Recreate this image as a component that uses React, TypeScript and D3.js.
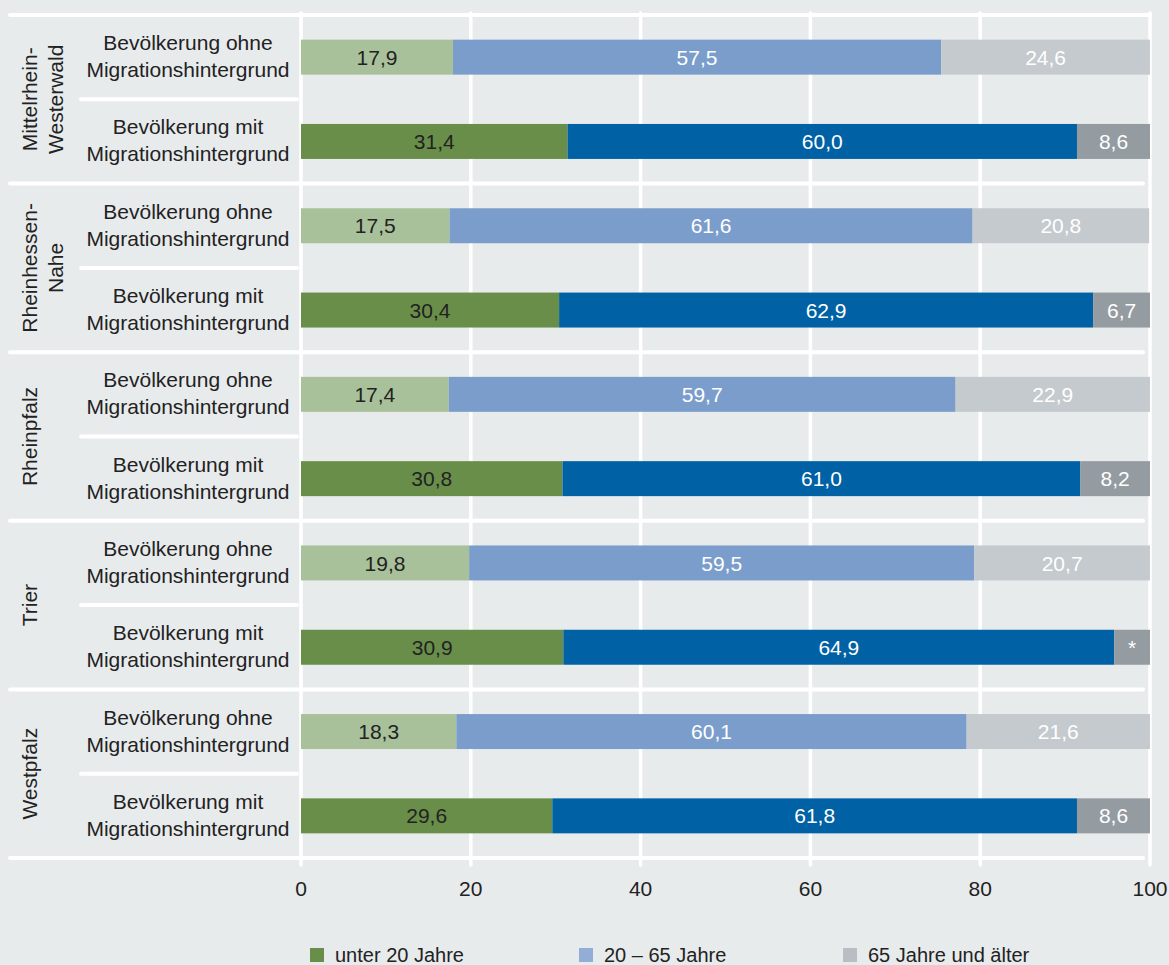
import React from "react";
import * as d3 from "d3";

const regionLines: string[][] = [
  ["Mittelrhein-", "Westerwald"],
  ["Rheinhessen-", "Nahe"],
  ["Rheinpfalz"],
  ["Trier"],
  ["Westpfalz"],
];
const groupLines: string[][] = [
  ["Bevölkerung ohne", "Migrationshintergrund"],
  ["Bevölkerung mit", "Migrationshintergrund"],
];
const seriesNames = ["unter 20 Jahre", "20 – 65 Jahre", "65 Jahre und älter"];

// ohne Migrationshintergrund
const ohneUnder20 = [17.9, 17.5, 17.4, 19.8, 18.3];
const ohneMid = [57.5, 61.6, 59.7, 59.5, 60.1];
const ohneOld = [24.6, 20.8, 22.9, 20.7, 21.6];
// mit Migrationshintergrund
const mitUnder20 = [31.4, 30.4, 30.8, 30.9, 29.6];
const mitMid = [60.0, 62.9, 61.0, 64.9, 61.8];
const mitOld = [8.6, 6.7, 8.2, 4.2, 8.6];
const mitOldLabels = ["8,6", "6,7", "8,2", "*", "8,6"];

const xTicks = [0, 20, 40, 60, 80, 100];

const ohneColors = ["#a9c19a", "#7b9dcb", "#c5cace"];
const mitColors = ["#688e4a", "#0062a5", "#949ba1"];
const ohneText = ["#222", "#fff", "#fff"];
const mitText = ["#222", "#fff", "#fff"];
const legendColors = ["#688e4a", "#93aed6", "#b8bec4"];

const fmt = (v: number) => v.toFixed(1).replace(".", ",");

export default function App() {
  const W = 1169;
  const H = 965;
  const top = 15;
  const bottom = 858;
  const x = d3.scaleLinear().domain([0, 100]).range([301, 1150]);

  type Row = { key: string; values: number[]; labels: string[]; colors: string[]; text: string[]; region: number; grp: number };
  const rows: Row[] = [];
  regionLines.forEach((_, i) => {
    rows.push({
      key: `r${i}o`,
      values: [ohneUnder20[i], ohneMid[i], ohneOld[i]],
      labels: [fmt(ohneUnder20[i]), fmt(ohneMid[i]), fmt(ohneOld[i])],
      colors: ohneColors,
      text: ohneText,
      region: i,
      grp: 0,
    });
    rows.push({
      key: `r${i}m`,
      values: [mitUnder20[i], mitMid[i], mitOld[i]],
      labels: [fmt(mitUnder20[i]), fmt(mitMid[i]), mitOldLabels[i]],
      colors: mitColors,
      text: mitText,
      region: i,
      grp: 1,
    });
  });

  const y = d3
    .scaleBand<string>()
    .domain(rows.map((r) => r.key))
    .range([top, bottom])
    .paddingInner(0.585)
    .paddingOuter(0.2925);
  const step = y.step();
  const groupH = step * 2;
  const font = "'Liberation Sans', Arial, Helvetica, sans-serif";

  return (
    <svg width={W} height={H} style={{ position: "absolute", left: 0, top: 0, background: "#e8ebec" }} fontFamily={font}>
      <rect x={0} y={0} width={W} height={H} fill="#e8ebec" />
      {/* vertical gridlines */}
      {xTicks.map((t) => (
        <line key={t} x1={x(t)} x2={x(t)} y1={13} y2={865} stroke="#fff" strokeWidth={3.5} strokeLinecap="round" />
      ))}
      {/* group separators */}
      {d3.range(regionLines.length + 1).map((g) => (
        <line
          key={g}
          x1={10}
          x2={g === 0 ? 1150 : 1143}
          y1={top + g * groupH}
          y2={top + g * groupH}
          stroke="#fff"
          strokeWidth={4}
          strokeLinecap="round"
        />
      ))}
      {/* inner separators */}
      {regionLines.map((_, g) => (
        <line
          key={g}
          x1={81}
          x2={297}
          y1={top + g * groupH + step}
          y2={top + g * groupH + step}
          stroke="#fff"
          strokeWidth={4}
          strokeLinecap="round"
        />
      ))}
      {/* bars */}
      {rows.map((r) => {
        let acc = 0;
        const y0 = y(r.key)!;
        const bh = y.bandwidth();
        return (
          <g key={r.key}>
            {r.values.map((v, i) => {
              const x0 = x(acc);
              acc += v;
              const x1 = x(acc);
              return (
                <g key={i}>
                  <rect x={x0} y={y0} width={x1 - x0} height={bh} fill={r.colors[i]} />
                  <text
                    x={(x0 + x1) / 2}
                    y={y0 + bh / 2}
                    dy="0.36em"
                    textAnchor="middle"
                    fontSize={21}
                    fill={r.text[i]}
                  >
                    {r.labels[i]}
                  </text>
                </g>
              );
            })}
            {/* row label */}
            <text x={188} textAnchor="middle" fontSize={21} fill="#222">
              {groupLines[r.grp].map((l, li) => (
                <tspan key={li} x={188} y={y0 + bh / 2 - 7 + li * 27}>
                  {l}
                </tspan>
              ))}
            </text>
          </g>
        );
      })}
      {/* region labels */}
      {regionLines.map((lines, g) => {
        const cy = top + g * groupH + groupH / 2;
        return (
          <text key={g} transform={`translate(0,${cy}) rotate(-90)`} textAnchor="middle" fontSize={21} fill="#222">
            {lines.map((l, li) => (
              <tspan key={li} x={0} y={37 + li * 26}>
                {l}
              </tspan>
            ))}
          </text>
        );
      })}
      {/* x tick labels */}
      {xTicks.map((t) => (
        <text key={t} x={x(t)} y={896} textAnchor="middle" fontSize={21} fill="#222">
          {t}
        </text>
      ))}
      {/* legend */}
      {seriesNames.map((s, i) => {
        const lx = [310, 579, 843][i];
        return (
          <g key={s}>
            <rect x={lx} y={948} width={14} height={14} fill={legendColors[i]} />
            <text x={lx + 25} y={962} fontSize={20} fill="#222">
              {s}
            </text>
          </g>
        );
      })}
    </svg>
  );
}
